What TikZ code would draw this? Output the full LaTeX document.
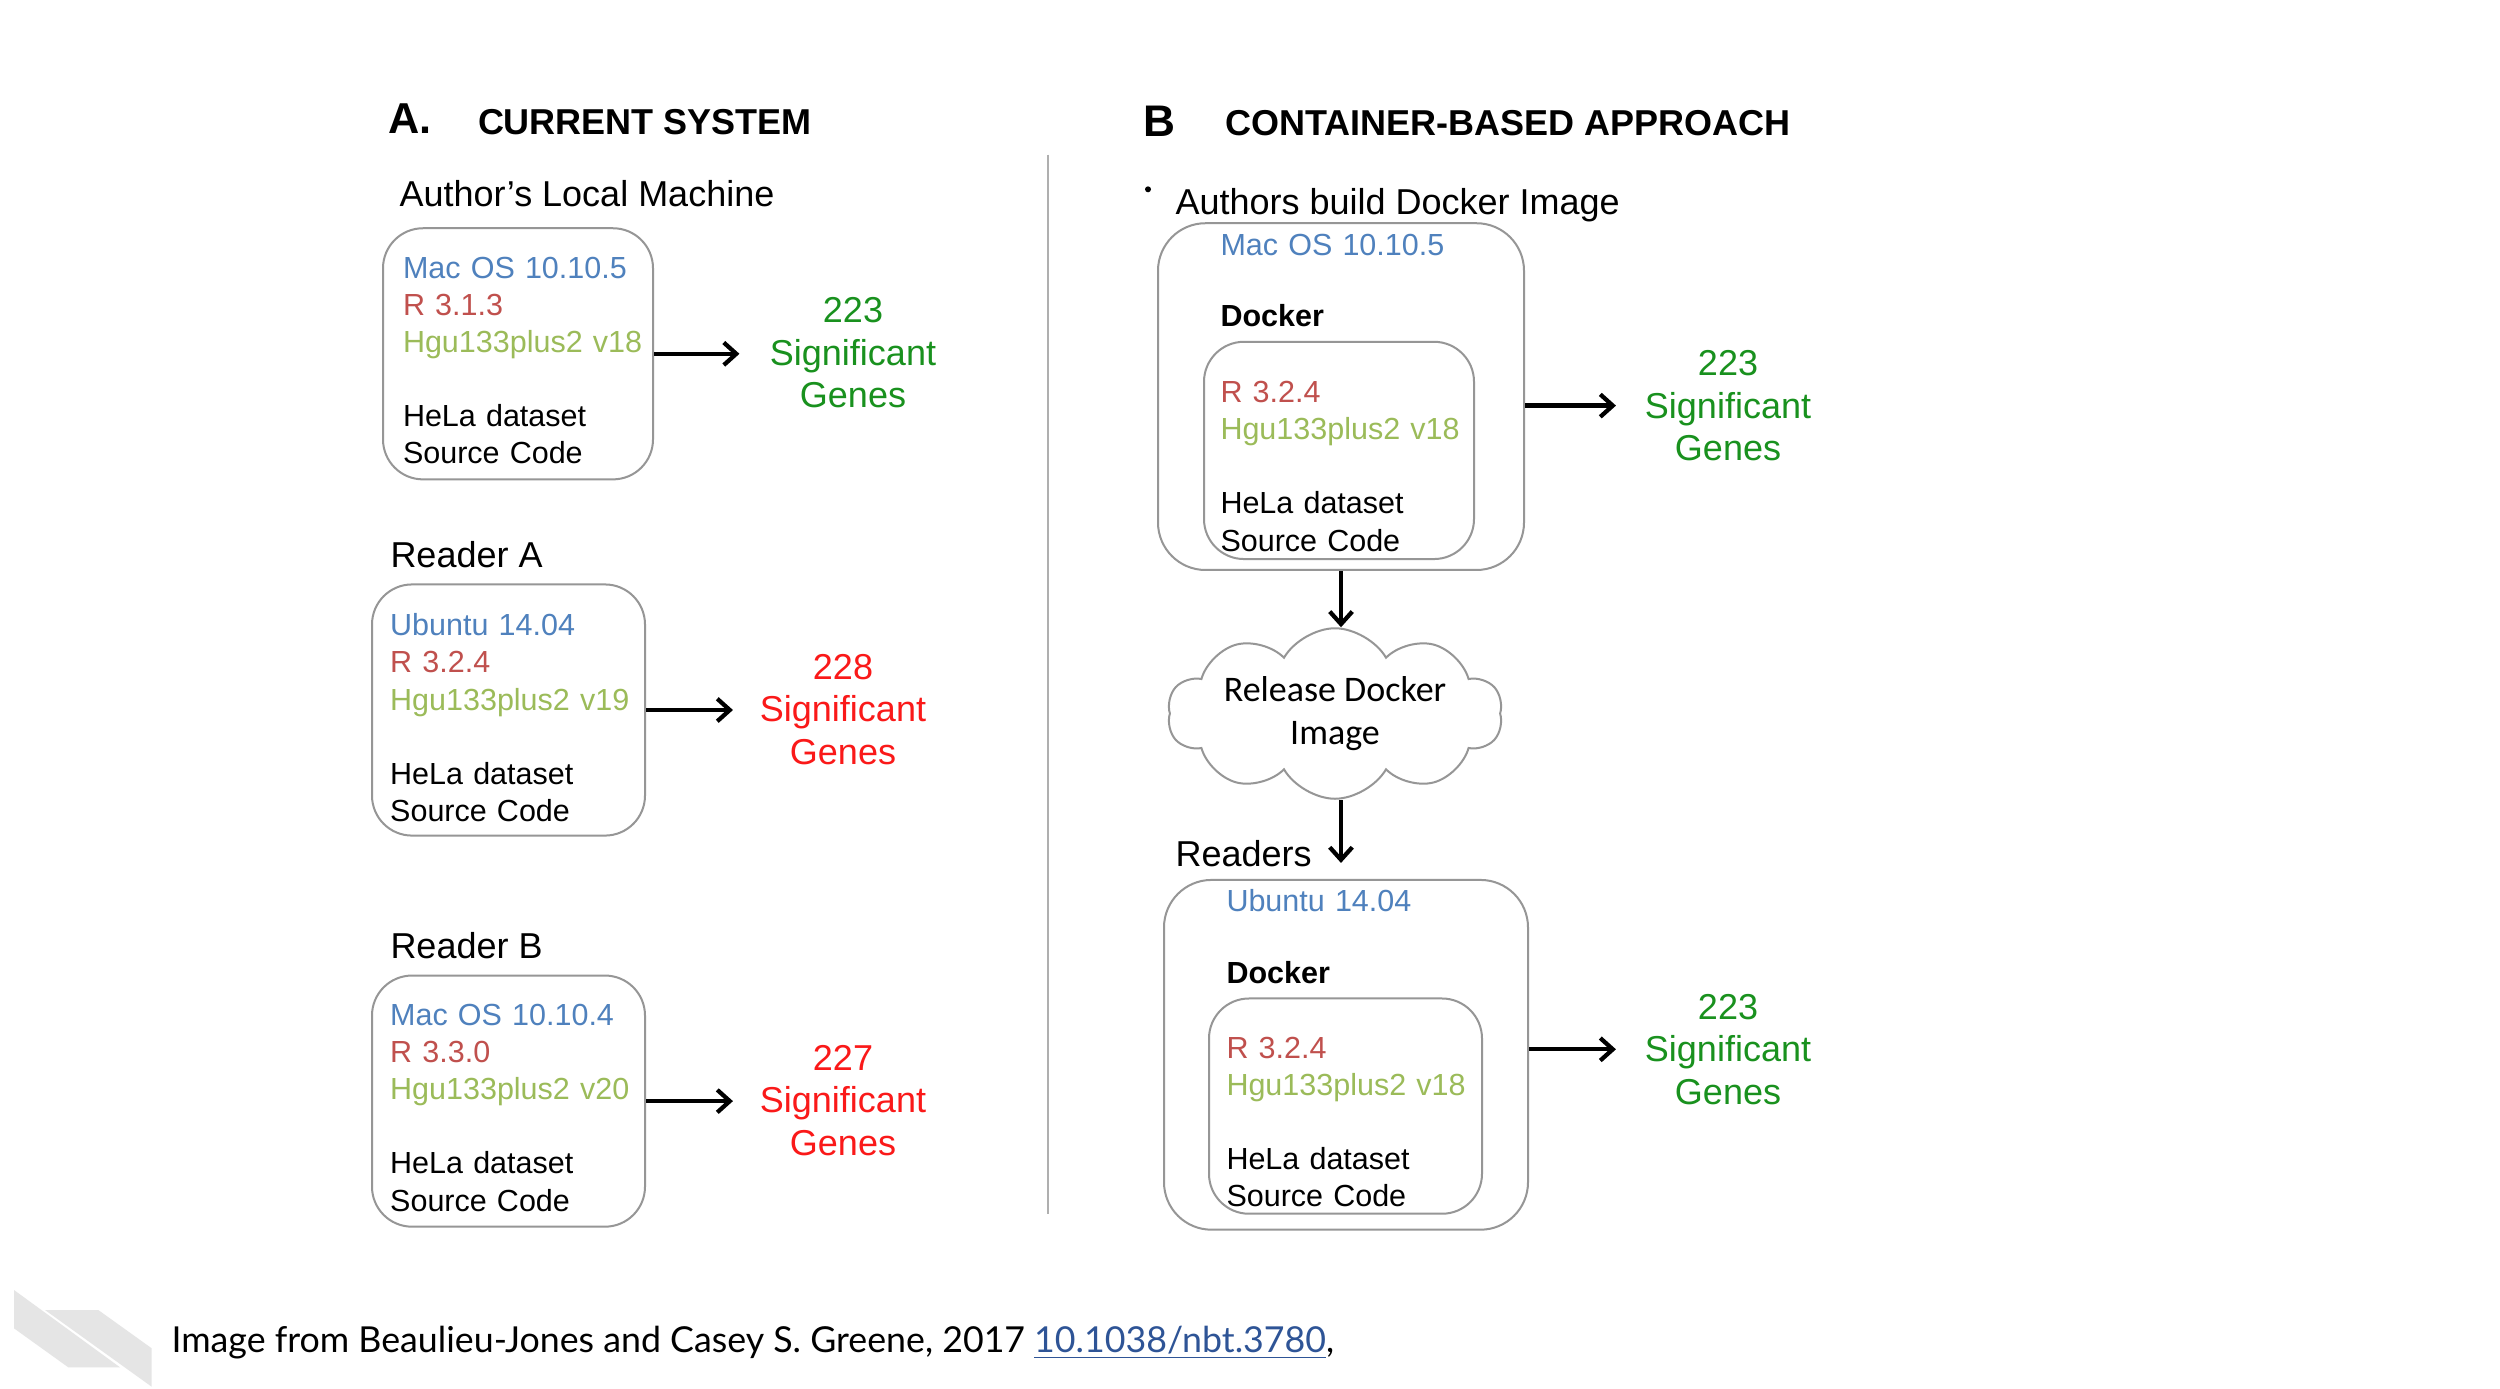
\documentclass[tikz,border=0pt]{standalone}
\usepackage{fontspec}
\setmainfont{Liberation Sans}
\newfontfamily\carl{Carlito}
\newfontfamily\latof{Lato}
\usetikzlibrary{arrows.meta,shapes.symbols}
\definecolor{osblue}{RGB}{79,129,189}
\definecolor{rred}{RGB}{192,80,77}
\definecolor{hgreen}{RGB}{155,187,89}
\definecolor{ggreen}{RGB}{25,145,30}
\definecolor{gred}{RGB}{250,25,25}
\definecolor{boxgray}{RGB}{150,150,150}
\definecolor{divgray}{RGB}{175,175,175}
\definecolor{shapegray}{RGB}{229,229,229}
\definecolor{linkblue}{RGB}{46,84,150}
\begin{document}
\begin{tikzpicture}[x=0.4pt,y=-0.4pt,
  sbox/.style={draw=boxgray, line width=0.8pt, rounded corners=16pt, inner sep=0pt},
  obox/.style={draw=boxgray, line width=0.8pt, rounded corners=19pt, inner sep=0pt},
  txt/.style={anchor=base west, inner sep=0pt, align=left, text width=150pt,
    font=\fontsize{12.2}{14.85}\selectfont},
  lbl/.style={anchor=base west, inner sep=0pt, font=\fontsize{14.4}{17}\selectfont},
  ttl/.style={anchor=base west, inner sep=0pt, font=\bfseries\fontsize{14.4}{17}\selectfont},
  genes/.style={align=center, inner sep=0pt, font=\fontsize{14.4}{17}\selectfont},
  arr/.style={line width=1.7pt, -{Straight Barb[length=5pt,width=9pt]}},
  cloudbox/.style={cloud, cloud puffs=10, cloud puff arc=120, cloud ignores aspect,
    draw=boxgray, line width=0.8pt, minimum width=134pt, minimum height=68.2pt,
    inner sep=0pt, align=center, font=\carl\fontsize{14.4}{17.3}\selectfont}
]
\fill[white] (0,0) rectangle (2500,1388);
\useasboundingbox (0,0) rectangle (2500,1388);

% titles
\node[ttl, font=\bfseries\fontsize{17.3}{20}\selectfont] (tA) at (388,133.5) {A.};
\node[ttl] (tAt) at (477.5,134.5) {CURRENT SYSTEM};
\node[ttl, font=\bfseries\fontsize{17.7}{20}\selectfont] (tB) at (1143,136.5) {B};
\node[ttl] (tBt) at (1225,135.5) {CONTAINER-BASED APPROACH};

% divider
\draw[divgray, line width=0.8pt] (1048,154.5) -- (1048,1213.7);

% ---- A: author's machine
\node[lbl] (lAuth) at (399,206.3) {Author's Local Machine};
\node[sbox, minimum width=108pt, minimum height=100.45pt] (b1) at (518,353.8) {};
\node[txt] (t1) at (402.5,278) {{\color{osblue}Mac OS 10.10.5}\\{\color{rred}R 3.1.3}\\{\color{hgreen}Hgu133plus2 v18}\\[14.85pt]HeLa dataset\\Source Code};
\node[genes, text=ggreen] (g1) at (853,352.8) {223\\Significant\\Genes};
\draw[arr, shorten >=12pt] (b1.east) -- (b1.east -| g1.west);

% ---- Reader A
\node[lbl] (lRA) at (390,567) {Reader A};
\node[sbox, minimum width=109.2pt, minimum height=100.45pt] (b2) at (508.5,710) {};
\node[txt] (t2) at (389.7,635.8) {{\color{osblue}Ubuntu 14.04}\\{\color{rred}R 3.2.4}\\{\color{hgreen}Hgu133plus2 v19}\\[14.85pt]HeLa dataset\\Source Code};
\node[genes, text=gred] (g2) at (843,709.5) {228\\Significant\\Genes};
\draw[arr, shorten >=10.6pt] (b2.east) -- (b2.east -| g2.west);

% ---- Reader B
\node[lbl] (lRB) at (390,958.6) {Reader B};
\node[sbox, minimum width=109.2pt, minimum height=100.45pt] (b3) at (508.5,1101.1) {};
\node[txt] (t3) at (389.7,1025.4) {{\color{osblue}Mac OS 10.10.4}\\{\color{rred}R 3.3.0}\\{\color{hgreen}Hgu133plus2 v20}\\[14.85pt]HeLa dataset\\Source Code};
\node[genes, text=gred] (g3) at (843,1100.1) {227\\Significant\\Genes};
\draw[arr, shorten >=10.6pt] (b3.east) -- (b3.east -| g3.west);

% ---- B: authors build docker image
\fill (1148,189.3) circle (3);
\node[lbl] (lAB) at (1175,214.2) {Authors build Docker Image};
\node[obox, minimum width=146.4pt, minimum height=138.7pt] (ob1) at (1341,396.6) {};
\node[txt, text=osblue] (tm1) at (1220,255.1) {Mac OS 10.10.5};
\node[txt, font=\bfseries\fontsize{12.2}{14.85}\selectfont] (td1) at (1220,326.9) {Docker};
\node[sbox, minimum width=108pt, minimum height=86.9pt] (ib1) at (1339,450.4) {};
\node[txt] (ti1) at (1220,402.6) {{\color{rred}R 3.2.4}\\{\color{hgreen}Hgu133plus2 v18}\\[14.85pt]HeLa dataset\\Source Code};
\node[genes, text=ggreen] (g4) at (1728,405.6) {223\\Significant\\Genes};
\draw[arr, shorten >=11.4pt] (g4.west -| ob1.east) -- (g4.west);

% cloud
\node[cloudbox] (cl) at (1335,713.5) {Release Docker\\Image};
\draw[arr] (ob1.south) -- (ob1.south |- cl.north);

% readers
\node[lbl] (lRd) at (1175,866) {Readers};
\node[obox, minimum width=145.6pt, minimum height=139.9pt] (ob2) at (1346,1054.8) {};
\draw[arr, shorten >=6.4pt] (ob1.south |- cl.south) -- (ob1.south |- ob2.north);
\node[txt, text=osblue] (tm2) at (1226,911.8) {Ubuntu 14.04};
\node[txt, font=\bfseries\fontsize{12.2}{14.85}\selectfont] (td2) at (1226,983.5) {Docker};
\node[sbox, minimum width=109.2pt, minimum height=86.1pt] (ib2) at (1345.5,1106.1) {};
\node[txt] (ti2) at (1226,1058.3) {{\color{rred}R 3.2.4}\\{\color{hgreen}Hgu133plus2 v18}\\[14.85pt]HeLa dataset\\Source Code};
\node[genes, text=ggreen] (g5) at (1728,1049.3) {223\\Significant\\Genes};
\draw[arr, shorten >=11.4pt] (g5.west -| ob2.east) -- (g5.west);

% bottom decoration and caption
\fill[shapegray] (14,1290) -- (14,1328.3) -- (68.3,1367.3) -- (120,1367.3) -- cycle;
\fill[shapegray] (45,1310) -- (98.3,1310) -- (151.7,1348.3) -- (151.7,1386.7) -- cycle;
\node[anchor=base west, inner sep=0pt, font=\latof\fontsize{14.3}{17}\selectfont] (cap) at (171,1352)
  {Image from Beaulieu-Jones and Casey S. Greene, 2017 {\color{linkblue}\underline{10.1038/nbt.3780}},};
\end{tikzpicture}
\end{document}
